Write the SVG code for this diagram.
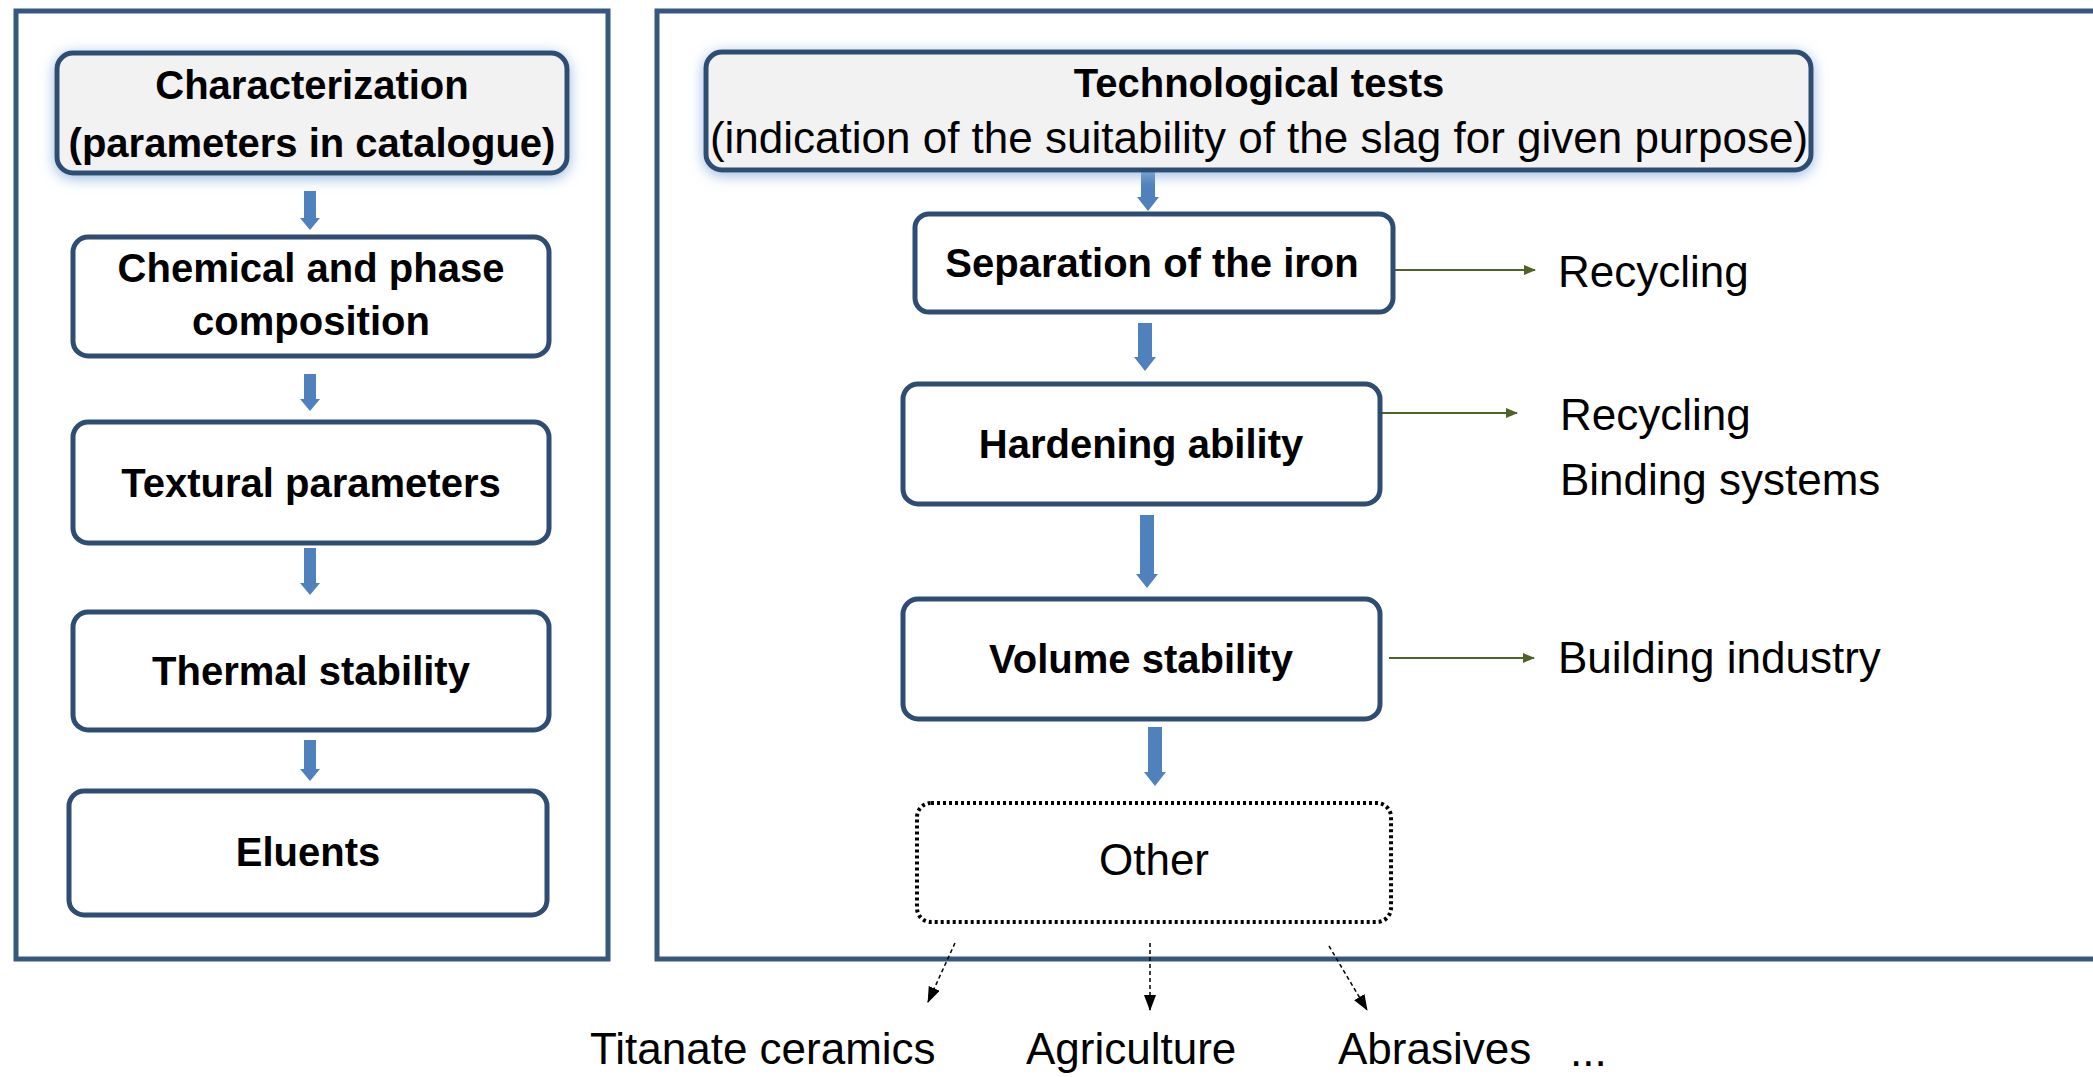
<svg xmlns="http://www.w3.org/2000/svg" width="2093" height="1077" viewBox="0 0 2093 1077">
  <defs>
    <filter id="glow" x="-10%" y="-30%" width="120%" height="160%">
      <feGaussianBlur in="SourceAlpha" stdDeviation="7" result="b"/>
      <feOffset in="b" dx="0" dy="3" result="o"/>
      <feFlood flood-color="#8fb2de" flood-opacity="0.9"/>
      <feComposite in2="o" operator="in" result="g"/>
      <feMerge><feMergeNode in="g"/><feMergeNode in="SourceGraphic"/></feMerge>
    </filter>
    <marker id="green" viewBox="0 0 12 10" refX="11" refY="5" markerWidth="12" markerHeight="10" markerUnits="userSpaceOnUse" orient="auto">
      <path d="M0,0 L12,5 L0,10 z" fill="#4f6228"/>
    </marker>
    <marker id="black" viewBox="0 0 16 12" refX="15" refY="6" markerWidth="16" markerHeight="12" markerUnits="userSpaceOnUse" orient="auto">
      <path d="M0,0 L16,6 L0,12 z" fill="#000"/>
    </marker>
  </defs>
  <style>
    .frame { fill: #ffffff; stroke: #36587e; stroke-width: 5; }
    .node { fill: #ffffff; stroke: #2f4d72; stroke-width: 5; }
    .head { fill: #f2f2f2; stroke: #2f4d72; stroke-width: 5; filter: url(#glow); }
    .other { fill: #ffffff; stroke: #000; stroke-width: 4; stroke-dasharray: 3 3; }
    .b { font-family: "Liberation Sans", Arial, sans-serif; font-weight: bold; font-size: 40px; fill: #000; text-anchor: middle; }
    .r { font-family: "Liberation Sans", Arial, sans-serif; font-size: 44px; fill: #000; }
    .blk { fill: #4f81bd; }
    .gl { stroke: #4f6228; stroke-width: 2; fill: none; }
    .dl { stroke: #000; stroke-width: 1.5; stroke-dasharray: 4 3; fill: none; }
  </style>
  <rect x="0" y="0" width="2093" height="1077" fill="#ffffff"/>

  <g id="frames">
    <rect class="frame" x="16" y="11" width="592" height="948"/>
    <rect class="frame" x="657" y="11" width="1460" height="948"/>
  </g>

  <g id="connectors">
    <polygon class="blk" points="304,191 316,191 316,218 320,218 310,230 300,218 304,218"/>
    <polygon class="blk" points="304,374 316,374 316,399 320,399 310,411 300,399 304,399"/>
    <polygon class="blk" points="304,548 316,548 316,583 320,583 310,595 300,583 304,583"/>
    <polygon class="blk" points="304,740 316,740 316,769 320,769 310,781 300,769 304,769"/>

    <polygon class="blk" points="1141,171 1155,171 1155,197 1159,197 1148,211 1137,197 1141,197"/>
    <polygon class="blk" points="1138,323 1152,323 1152,357 1156,357 1145,371 1134,357 1138,357"/>
    <polygon class="blk" points="1140,515 1154,515 1154,574 1158,574 1147,588 1136,574 1140,574"/>
    <polygon class="blk" points="1148,727 1162,727 1162,772 1166,772 1155,786 1144,772 1148,772"/>

    <line class="gl" x1="1393" y1="270" x2="1535" y2="270" marker-end="url(#green)"/>
    <line class="gl" x1="1376" y1="413" x2="1517" y2="413" marker-end="url(#green)"/>
    <line class="gl" x1="1389" y1="658" x2="1534" y2="658" marker-end="url(#green)"/>

    <line class="dl" x1="955" y1="943" x2="928" y2="1002" marker-end="url(#black)"/>
    <line class="dl" x1="1150" y1="943" x2="1150" y2="1010" marker-end="url(#black)"/>
    <line class="dl" x1="1329" y1="946" x2="1367" y2="1010" marker-end="url(#black)"/>
  </g>

  <g id="characterization">
    <rect class="head" x="57" y="53" width="510" height="120" rx="16"/>
    <text class="b" x="312" y="99">Characterization</text>
    <text class="b" x="312" y="157">(parameters in catalogue)</text>
  </g>
  <g id="chemical">
    <rect class="node" x="73" y="237" width="476" height="119" rx="15"/>
    <text class="b" x="311" y="282">Chemical and phase</text>
    <text class="b" x="311" y="335">composition</text>
  </g>
  <g id="textural">
    <rect class="node" x="73" y="422" width="476" height="121" rx="15"/>
    <text class="b" x="311" y="497">Textural parameters</text>
  </g>
  <g id="thermal">
    <rect class="node" x="73" y="612" width="476" height="118" rx="15"/>
    <text class="b" x="311" y="685">Thermal stability</text>
  </g>
  <g id="eluents">
    <rect class="node" x="69" y="791" width="478" height="124" rx="15"/>
    <text class="b" x="308" y="866">Eluents</text>
  </g>

  <g id="technological">
    <rect class="head" x="706" y="52" width="1105" height="118" rx="16"/>
    <text class="b" x="1259" y="97">Technological tests</text>
    <text class="r" x="1259" y="153" font-size="43" text-anchor="middle">(indication of the suitability of the slag for given purpose)</text>
  </g>
  <g id="separation">
    <rect class="node" x="915" y="214" width="478" height="98" rx="14"/>
    <text class="b" x="1152" y="277">Separation of the iron</text>
  </g>
  <g id="hardening">
    <rect class="node" x="903" y="384" width="477" height="120" rx="15"/>
    <text class="b" x="1141" y="458">Hardening ability</text>
  </g>
  <g id="volume">
    <rect class="node" x="903" y="599" width="477" height="120" rx="15"/>
    <text class="b" x="1141" y="673">Volume stability</text>
  </g>
  <g id="other">
    <rect class="other" x="917" y="803" width="474" height="119" rx="14"/>
    <text class="r" x="1154" y="875" font-size="43" text-anchor="middle">Other</text>
  </g>

  <g id="labels">
    <text class="r" x="1558" y="287">Recycling</text>
    <text class="r" x="1560" y="430">Recycling</text>
    <text class="r" x="1560" y="495">Binding systems</text>
    <text class="r" x="1558" y="673">Building industry</text>
    <text class="r" x="590" y="1064" font-size="46">Titanate ceramics</text>
    <text class="r" x="1026" y="1064" font-size="47">Agriculture</text>
    <text class="r" x="1338" y="1064" font-size="45">Abrasives</text>
    <text class="r" x="1570" y="1066" font-size="44">...</text>
  </g>
</svg>
